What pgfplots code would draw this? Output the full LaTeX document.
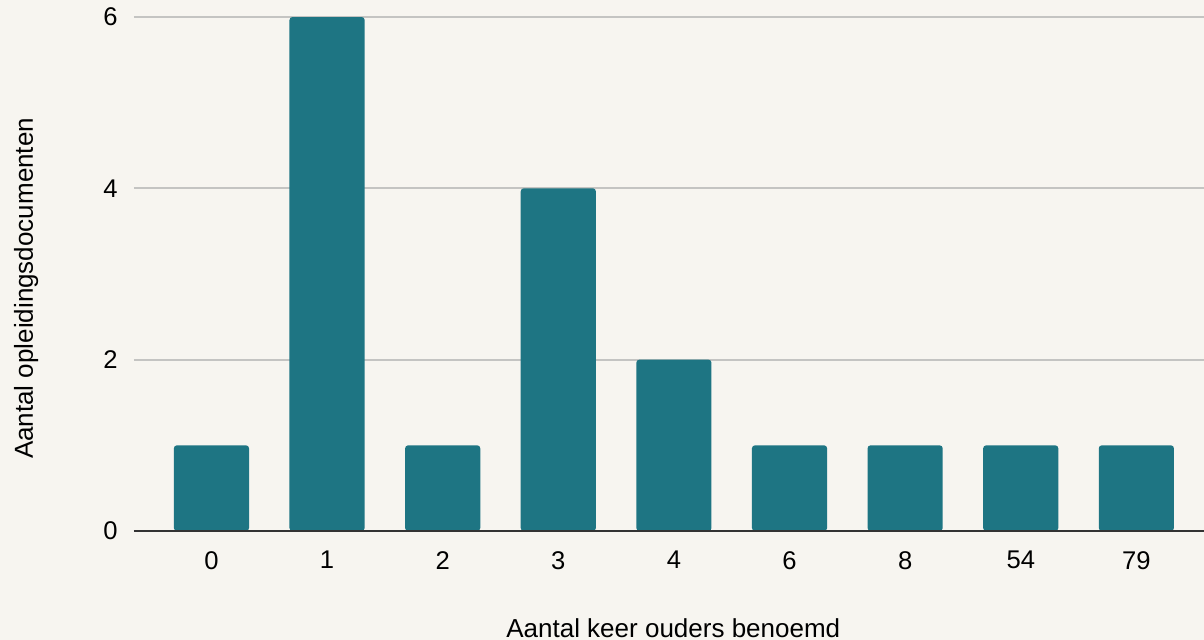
\documentclass[border=0pt]{standalone}
\usepackage{pgfplots}
\pgfplotsset{compat=1.18}
\usepackage{fontspec}
\setmainfont{Liberation Sans}
\definecolor{bg}{HTML}{F7F5F0}
\definecolor{barc}{HTML}{1E7583}
\definecolor{gridc}{HTML}{C4C4C2}
\definecolor{axisc}{HTML}{333333}
\begin{document}
\fontsize{12.5bp}{15bp}\selectfont
\begin{tikzpicture}
\fill[bg] (-67bp,-54.5bp) rectangle (535bp,265.5bp);
\useasboundingbox (-67bp,-54.5bp) rectangle (535bp,265.5bp);
\begin{axis}[
  at={(0,0)}, anchor=south west,
  scale only axis, width=535bp, height=257bp,
  xmin=-0.67, xmax=8.585, ymin=0, ymax=6,
  axis x line*=bottom, axis y line*=left,
  x axis line style={-, draw=axisc, line width=1bp},
  y axis line style={draw=none},
  major tick length=0pt,
  xtick={0,1,2,3,4,5,6,7,8},
  xticklabels={0,1,2,3,4,6,8,54,79},
  ytick={0,2,4,6},
  ymajorgrids,
  grid style={draw=gridc, line width=1bp},
  /pgf/number format/assume math mode=true,
  tick label style={font=\fontsize{12.8bp}{15bp}\selectfont, text=black},
  yticklabel style={xshift=-3.8bp},
  xticklabel style={yshift=-5.8bp},
  xlabel={Aantal keer ouders benoemd},
  ylabel={Aantal opleidingsdocumenten},
  every axis x label/.style={at={(rel axis cs:0.504,0)}, anchor=base, yshift=-53bp, font=\fontsize{13bp}{16bp}\selectfont},
  every axis y label/.style={at={(rel axis cs:0,0.472)}, anchor=base, rotate=90, yshift=50.5bp, font=\fontsize{13bp}{16bp}\selectfont},
  clip=false,
]
\addplot[ybar, bar width=0.65, fill=barc, draw=none, rounded corners=1.5bp]
  coordinates {(0,1) (1,6) (2,1) (3,4) (4,2) (5,1) (6,1) (7,1) (8,1)};
\end{axis}
\draw[axisc, line width=1bp] (0,0) -- (535bp,0);
\end{tikzpicture}
\end{document}
